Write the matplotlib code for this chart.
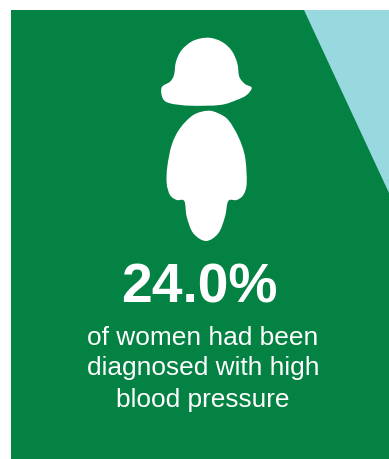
import numpy as np
import matplotlib
matplotlib.use("Agg")
import matplotlib.pyplot as plt
from matplotlib.path import Path
from matplotlib.patches import PathPatch, Polygon, Rectangle

GREEN = "#048244"
TEAL = "#98D8DF"
headline = "24.0%"
caption = ["of women had been", "diagnosed with high", "blood pressure"]

# outlines in reference pixels
panel = (11.5, 9.5, 389, 459)
wedge = [(304.5, 9.5), (389, 9.5), (389, 193)]
hair = [(208.3, 37.7), (193.3, 40.7), (181.7, 50), (176, 61.7), (174, 75), (170, 81.7),
        (161.7, 87.3), (162.7, 98.3), (170, 103.3), (190, 105.7), (220, 105), (236.7, 100),
        (246.7, 95), (251.7, 87.7), (245, 84), (239.3, 76.7), (237.3, 63.3), (231.7, 50.7), (221.7, 41.7)]
body = [(207.7, 110.7), (193.3, 115), (180, 128.3), (171.7, 145), (167.3, 166.7), (166.7, 183.3),
        (170, 195), (176.7, 200), (184.3, 201), (186.7, 216.7), (193.3, 233.3), (206, 241),
        (218.3, 233.3), (225, 216.7), (228.3, 201), (236.7, 200), (243.3, 195), (246.7, 183.3),
        (245, 156.7), (238.3, 136.7), (228.3, 120), (218.3, 113.3)]


def smooth(pts):
    p = np.array(pts, float)
    n = len(p)
    verts = [p[0]]
    codes = [Path.MOVETO]
    for i in range(n):
        p0, p1, p2, p3 = p[i - 1], p[i], p[(i + 1) % n], p[(i + 2) % n]
        verts += [p1 + (p2 - p0) / 6, p2 - (p3 - p1) / 6, p2]
        codes += [Path.CURVE4] * 3
    return Path(verts, codes)


fig = plt.figure(figsize=(3.89, 4.59), dpi=100, facecolor="white")
ax = fig.add_axes([0, 0, 1, 1])
ax.set_xlim(0, 389)
ax.set_ylim(459, 0)
ax.axis("off")

ax.add_patch(Rectangle(panel[:2], panel[2] - panel[0], panel[3] - panel[1], fc=GREEN, ec="none"))
ax.add_patch(Polygon(wedge, closed=True, fc=TEAL, ec="none"))
ax.add_patch(PathPatch(smooth(hair), fc="white", ec="none"))
ax.add_patch(PathPatch(smooth(body), fc="white", ec="none"))

font = "Liberation Sans"
ax.text(199, 288.5, headline, color="white", family=font, weight="bold", fontsize=39.8,
        ha="center", va="center")
for y, line in zip((338, 368, 400), caption):
    ax.text(203, y, line, color="white", family=font, fontsize=18.9, ha="center", va="center")

fig.savefig("out.png", dpi=100, facecolor="white")
